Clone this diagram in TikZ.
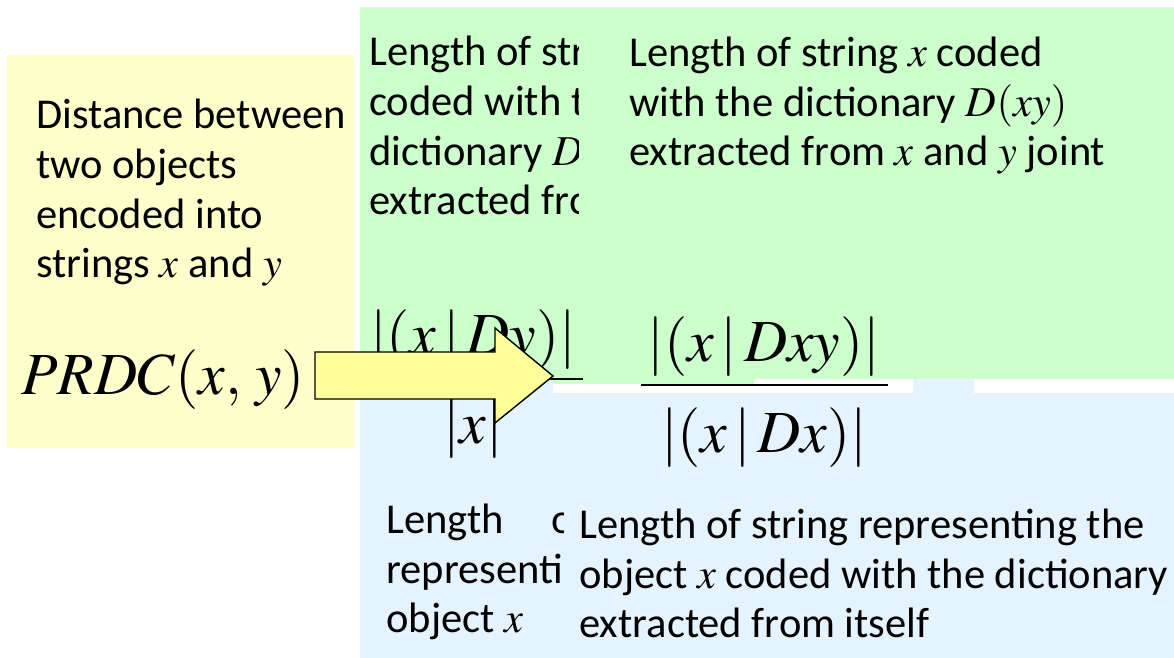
\documentclass[tikz,border=0pt]{standalone}
\usepackage{mathptmx}
\usepackage[no-math]{fontspec}
\setmainfont{Carlito}
\usetikzlibrary{calc}
\definecolor{boxyellow}{RGB}{255,255,204}
\definecolor{boxgreen}{RGB}{204,255,204}
\definecolor{boxblue}{RGB}{229,243,255}
\definecolor{arrowyellow}{RGB}{255,255,153}
\tikzset{
	txt/.style={font=\fontsize{24.2}{28.45}\selectfont, anchor=base west, align=left, inner sep=0pt},
	eq/.style={font=\fontsize{34}{40}\selectfont, inner sep=0pt},
	fracbar/.style={line width=1pt},
	blockarrow/.style={fill=arrowyellow, draw=black, line width=0.8pt, line join=miter}
}
\begin{document}
\begin{tikzpicture}[x=0.02cm, y=-0.02cm]
	\useasboundingbox (0,0) rectangle (1174,658);
	% coloured panels
	\fill[boxyellow] (7,55) rectangle (354,448);
	\fill[boxgreen] (360,7) rectangle (1174,379);
	\fill[boxblue] (360,379) rectangle (1174,658);
	\fill[white] (553,379) rectangle (913,393);
	\fill[white] (974,379) rectangle (1174,393);
	\fill[boxgreen] (553,379) rectangle (754,384);
	% left panel text (anchored on its last line)
	\node[txt] (dist) at (36,278) {Distance between\\two objects\\encoded into\\strings $x$ and $y$};
	% older text boxes, cut off by the newer ones
	\begin{scope}
		\clip (360,7) rectangle (578,300);
		\node[txt] (oldlen) at (369,215) {Length of str\\coded with t\\dictionary $D$\\extracted fro};
	\end{scope}
	\begin{scope}
		\clip (360,480) rectangle (563,658);
		\node[txt] (oldrep) at (386,633) {Length\hspace{27pt}o\\representi\\object $x$};
	\end{scope}
	% newer text boxes
	\node[txt] (lenxy) at (629,166) {Length of string $x$ coded\\with the dictionary $D(xy)$\\extracted from $x$ and $y$ joint};
	\node[txt] (lenx) at (579,638) {Length of string representing the\\object $x$ coded with the dictionary\\extracted from itself};
	% the two ratios
	\node[eq, anchor=south] (numa) at (473,370) {$|(x\,|\,Dy)|$};
	\node[eq, anchor=north] (dena) at (473,399) {$|x|$};
	\draw[fracbar] ($(numa.south west)+(-3,9)$) -- ($(numa.south east)+(7,9)$);
	\node[eq, anchor=south] (numb) at (764,377) {$|(x\,|\,Dxy)|$};
	\node[eq, anchor=north] (denb) at (764,407) {$|(x\,|\,Dx)|$};
	\draw[fracbar] ($(numb.south west)+(-6,8)$) -- ($(numb.south east)+(7,8)$);
	% distance name
	\node[eq, anchor=base west] (prdc) at (21,395) {$PRDC(x,\,y)$};
	% block arrow on top
	\draw[blockarrow] (315,352) -- (495,352) -- (495,328) -- (553,376) -- (495,423)
		-- (495,399) -- (315,399) -- cycle;
\end{tikzpicture}
\end{document}
